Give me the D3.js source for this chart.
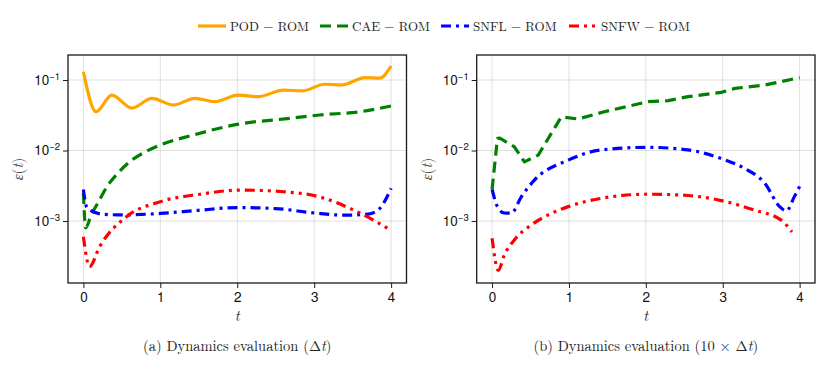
<!DOCTYPE html>
<html><head><meta charset="utf-8">
<script src="https://cdn.jsdelivr.net/npm/d3@7"></script>
<style>body{margin:0;background:#fff}</style>
</head><body><svg id="c" width="830" height="369"></svg>
<script>
// ---------- data ----------
const seriesNames = ["POD − ROM", "CAE − ROM", "SNFL − ROM", "SNFW − ROM"];
const xTicks = [0, 1, 2, 3, 4];
const yTicks = [1e-1, 1e-2, 1e-3];
const yTickExp = ["−1", "−2", "−3"];

// Panel (a): Δt
const aPodT = [0, 0.165, 0.37, 0.63, 0.89, 1.17, 1.45, 1.71, 2.01, 2.27, 2.6, 2.84, 3.14, 3.36, 3.66, 3.85, 4.0];
const aPodV = [0.131, 0.0355, 0.061, 0.040, 0.055, 0.0442, 0.055, 0.0493, 0.061, 0.058, 0.072, 0.070, 0.087, 0.085, 0.108, 0.106, 0.158];
const aCaeT = [0, 0.03, 0.1, 0.2, 0.3, 0.45, 0.62, 0.8, 1.0, 1.43, 2.0, 2.69, 3.07, 3.6, 4.0];
const aCaeV = [0.0025, 0.0008, 0.0012, 0.0019, 0.003, 0.0048, 0.0072, 0.0095, 0.012, 0.0166, 0.0235, 0.0286, 0.0319, 0.0355, 0.0428];
const aSnflT = [0, 0.04, 0.1, 0.25, 0.5, 1.0, 1.5, 2.0, 2.5, 3.0, 3.4, 3.7, 3.85, 4.0];
const aSnflV = [0.0028, 0.0016, 0.0014, 0.00125, 0.00122, 0.00128, 0.00142, 0.00155, 0.0015, 0.0013, 0.00121, 0.00125, 0.0015, 0.0029];
const aSnfwT = [0, 0.08, 0.21, 0.56, 1.0, 1.52, 2.04, 2.6, 3.07, 3.5, 3.77, 4.0];
const aSnfwV = [0.0006, 0.000225, 0.00043, 0.00115, 0.00188, 0.0024, 0.00275, 0.0026, 0.0022, 0.00145, 0.00103, 0.00074];

// Panel (b): 10 × Δt
const bCaeT = [0, 0.07, 0.1, 0.29, 0.42, 0.6, 0.9, 1.12, 1.46, 2.03, 2.29, 2.55, 2.98, 3.16, 3.55, 4.0];
const bCaeV = [0.0028, 0.0149, 0.015, 0.0113, 0.0069, 0.0086, 0.030, 0.028, 0.0355, 0.0493, 0.051, 0.058, 0.0668, 0.076, 0.085, 0.108];
const bSnflT = [0, 0.07, 0.16, 0.25, 0.38, 0.55, 0.99, 1.42, 2.03, 2.55, 2.98, 3.28, 3.55, 3.74, 3.83, 3.93, 4.0];
const bSnflV = [0.0028, 0.0016, 0.0013, 0.00129, 0.0022, 0.0038, 0.0073, 0.0102, 0.0111, 0.0102, 0.0077, 0.0056, 0.0034, 0.0016, 0.00139, 0.0022, 0.0031];
const bSnfwT = [0, 0.08, 0.16, 0.29, 0.51, 0.73, 0.99, 1.42, 2.03, 2.55, 2.98, 3.41, 3.76, 3.9];
const bSnfwV = [0.00057, 0.0002, 0.00033, 0.00054, 0.00088, 0.00122, 0.0016, 0.0021, 0.0024, 0.0023, 0.00195, 0.00143, 0.00103, 0.0007];

// ---------- styles ----------
const colors = ["#FFA500", "#008000", "#0000FF", "#FF0000"];
const dashes = [null, "11,6", "10,5,3,5", "10,5,3,5,3,5"];
const widths = [3.2, 3.2, 3.2, 3.2];
const SERIF = '"Latin Modern Roman","CMU Serif","Liberation Serif",serif';
const SANS = '"TeX Gyre Heros","Liberation Sans",Arial,sans-serif';

const svg = d3.select("#c");

const panels = [
  {left: 68, right: 406.5, series: [[aPodT, aPodV, 0], [aCaeT, aCaeV, 1], [aSnflT, aSnflV, 2], [aSnfwT, aSnfwV, 3]], title: ["(a) Dynamics evaluation (Δ", "t", ")"]},
  {left: 476.7, right: 815, series: [[bCaeT, bCaeV, 1], [bSnflT, bSnflV, 2], [bSnfwT, bSnfwV, 3]], title: ["(b) Dynamics evaluation (10 × Δ", "t", ")"]}
];
const plotTop = 55, plotBottom = 283;

panels.forEach((p, pi) => {
  const x = d3.scaleLinear().domain([-0.2, 4.2]).range([p.left, p.right]);
  const y = d3.scaleLog().domain([Math.pow(10, -3.879), Math.pow(10, -0.6454)]).range([plotBottom, plotTop]);
  const g = svg.append("g");

  // grid
  g.append("g").selectAll("line").data(xTicks).join("line")
    .attr("x1", d => x(d)).attr("x2", d => x(d)).attr("y1", plotTop).attr("y2", plotBottom)
    .attr("stroke", "#000").attr("stroke-opacity", 0.12).attr("stroke-width", 1);
  g.append("g").selectAll("line").data(yTicks).join("line")
    .attr("y1", d => y(d)).attr("y2", d => y(d)).attr("x1", p.left).attr("x2", p.right)
    .attr("stroke", "#000").attr("stroke-opacity", 0.12).attr("stroke-width", 1);

  // clip
  const cid = "clip" + pi;
  svg.append("clipPath").attr("id", cid).append("rect")
    .attr("x", p.left).attr("y", plotTop).attr("width", p.right - p.left).attr("height", plotBottom - plotTop);

  const line = d3.line().x(d => x(d[0])).y(d => y(d[1]));
  const lg = g.append("g").attr("clip-path", `url(#${cid})`);
  p.series.forEach(([ts, vs, si]) => {
    const pts = ts.map((t, i) => [t, vs[i]]);
    line.curve(si === 1 && pi === 1 ? d3.curveLinear : d3.curveMonotoneX);
    lg.append("path").datum(pts).attr("d", line)
      .attr("fill", "none").attr("stroke", colors[si]).attr("stroke-width", widths[si])
      .attr("stroke-dasharray", dashes[si]).attr("stroke-linecap", "butt").attr("stroke-linejoin", "round");
  });

  // axes
  const xa = g.append("g").attr("transform", `translate(0,${plotBottom})`)
    .call(d3.axisBottom(x).tickValues(xTicks).tickSize(5).tickPadding(4).tickFormat(d3.format("d")));
  xa.select(".domain").remove();
  xa.selectAll("line").attr("stroke", "#1a1a1a");
  xa.selectAll("text").style("font-family", SANS).style("font-size", "13.5px").attr("fill", "#111");

  const ya = g.append("g").attr("transform", `translate(${p.left},0)`)
    .call(d3.axisLeft(y).tickValues(yTicks).tickSize(5).tickPadding(3).tickFormat(() => ""));
  ya.select(".domain").remove();
  ya.selectAll("line").attr("stroke", "#1a1a1a");
  ya.selectAll("text").each(function(d, i) {
    const t = d3.select(this).style("font-family", SANS).attr("fill", "#111").style("font-size", "13.5px");
    t.append("tspan").text("10");
    t.append("tspan").style("font-size", "9.5px").attr("dy", -5).text(yTickExp[i]);
  });

  // box
  g.append("rect").attr("x", p.left).attr("y", plotTop).attr("width", p.right - p.left).attr("height", plotBottom - plotTop)
    .attr("fill", "none").attr("stroke", "#1a1a1a").attr("stroke-width", 1.3);

  // axis labels
  const cx = (p.left + p.right) / 2;
  g.append("text").attr("x", cx).attr("y", 321).attr("text-anchor", "middle")
    .style("font-family", SERIF).style("font-style", "italic").style("font-size", "15px").attr("fill", "#222").text("t");
  const yl = g.append("text").attr("transform", `translate(${p.left - 45},${(plotTop + plotBottom) / 2}) rotate(-90)`)
    .attr("text-anchor", "middle").style("font-family", SERIF).style("font-size", "15px").attr("fill", "#444");
  yl.append("tspan").style("font-style", "italic").text("ε");
  yl.append("tspan").text("(");
  yl.append("tspan").style("font-style", "italic").text("t");
  yl.append("tspan").text(")");

  // caption
  const cap = g.append("text").attr("x", cx).attr("y", 351).attr("text-anchor", "middle")
    .style("font-family", SERIF).style("font-size", "14.5px").attr("fill", "#222");
  cap.append("tspan").text(p.title[0]);
  cap.append("tspan").style("font-style", "italic").text(p.title[1]);
  cap.append("tspan").text(p.title[2]);
});

// legend
const legX = [198, 320, 441, 569];
const leg = svg.append("g");
seriesNames.forEach((n, i) => {
  leg.append("line").attr("x1", legX[i]).attr("x2", legX[i] + 28).attr("y1", 26).attr("y2", 26)
    .attr("stroke", colors[i]).attr("stroke-width", 3.2).attr("stroke-dasharray", dashes[i]);
  leg.append("text").attr("x", legX[i] + 32).attr("y", 30.5)
    .style("font-family", SERIF).style("font-size", "13px").attr("fill", "#222").text(n);
});
</script>
</body></html>
